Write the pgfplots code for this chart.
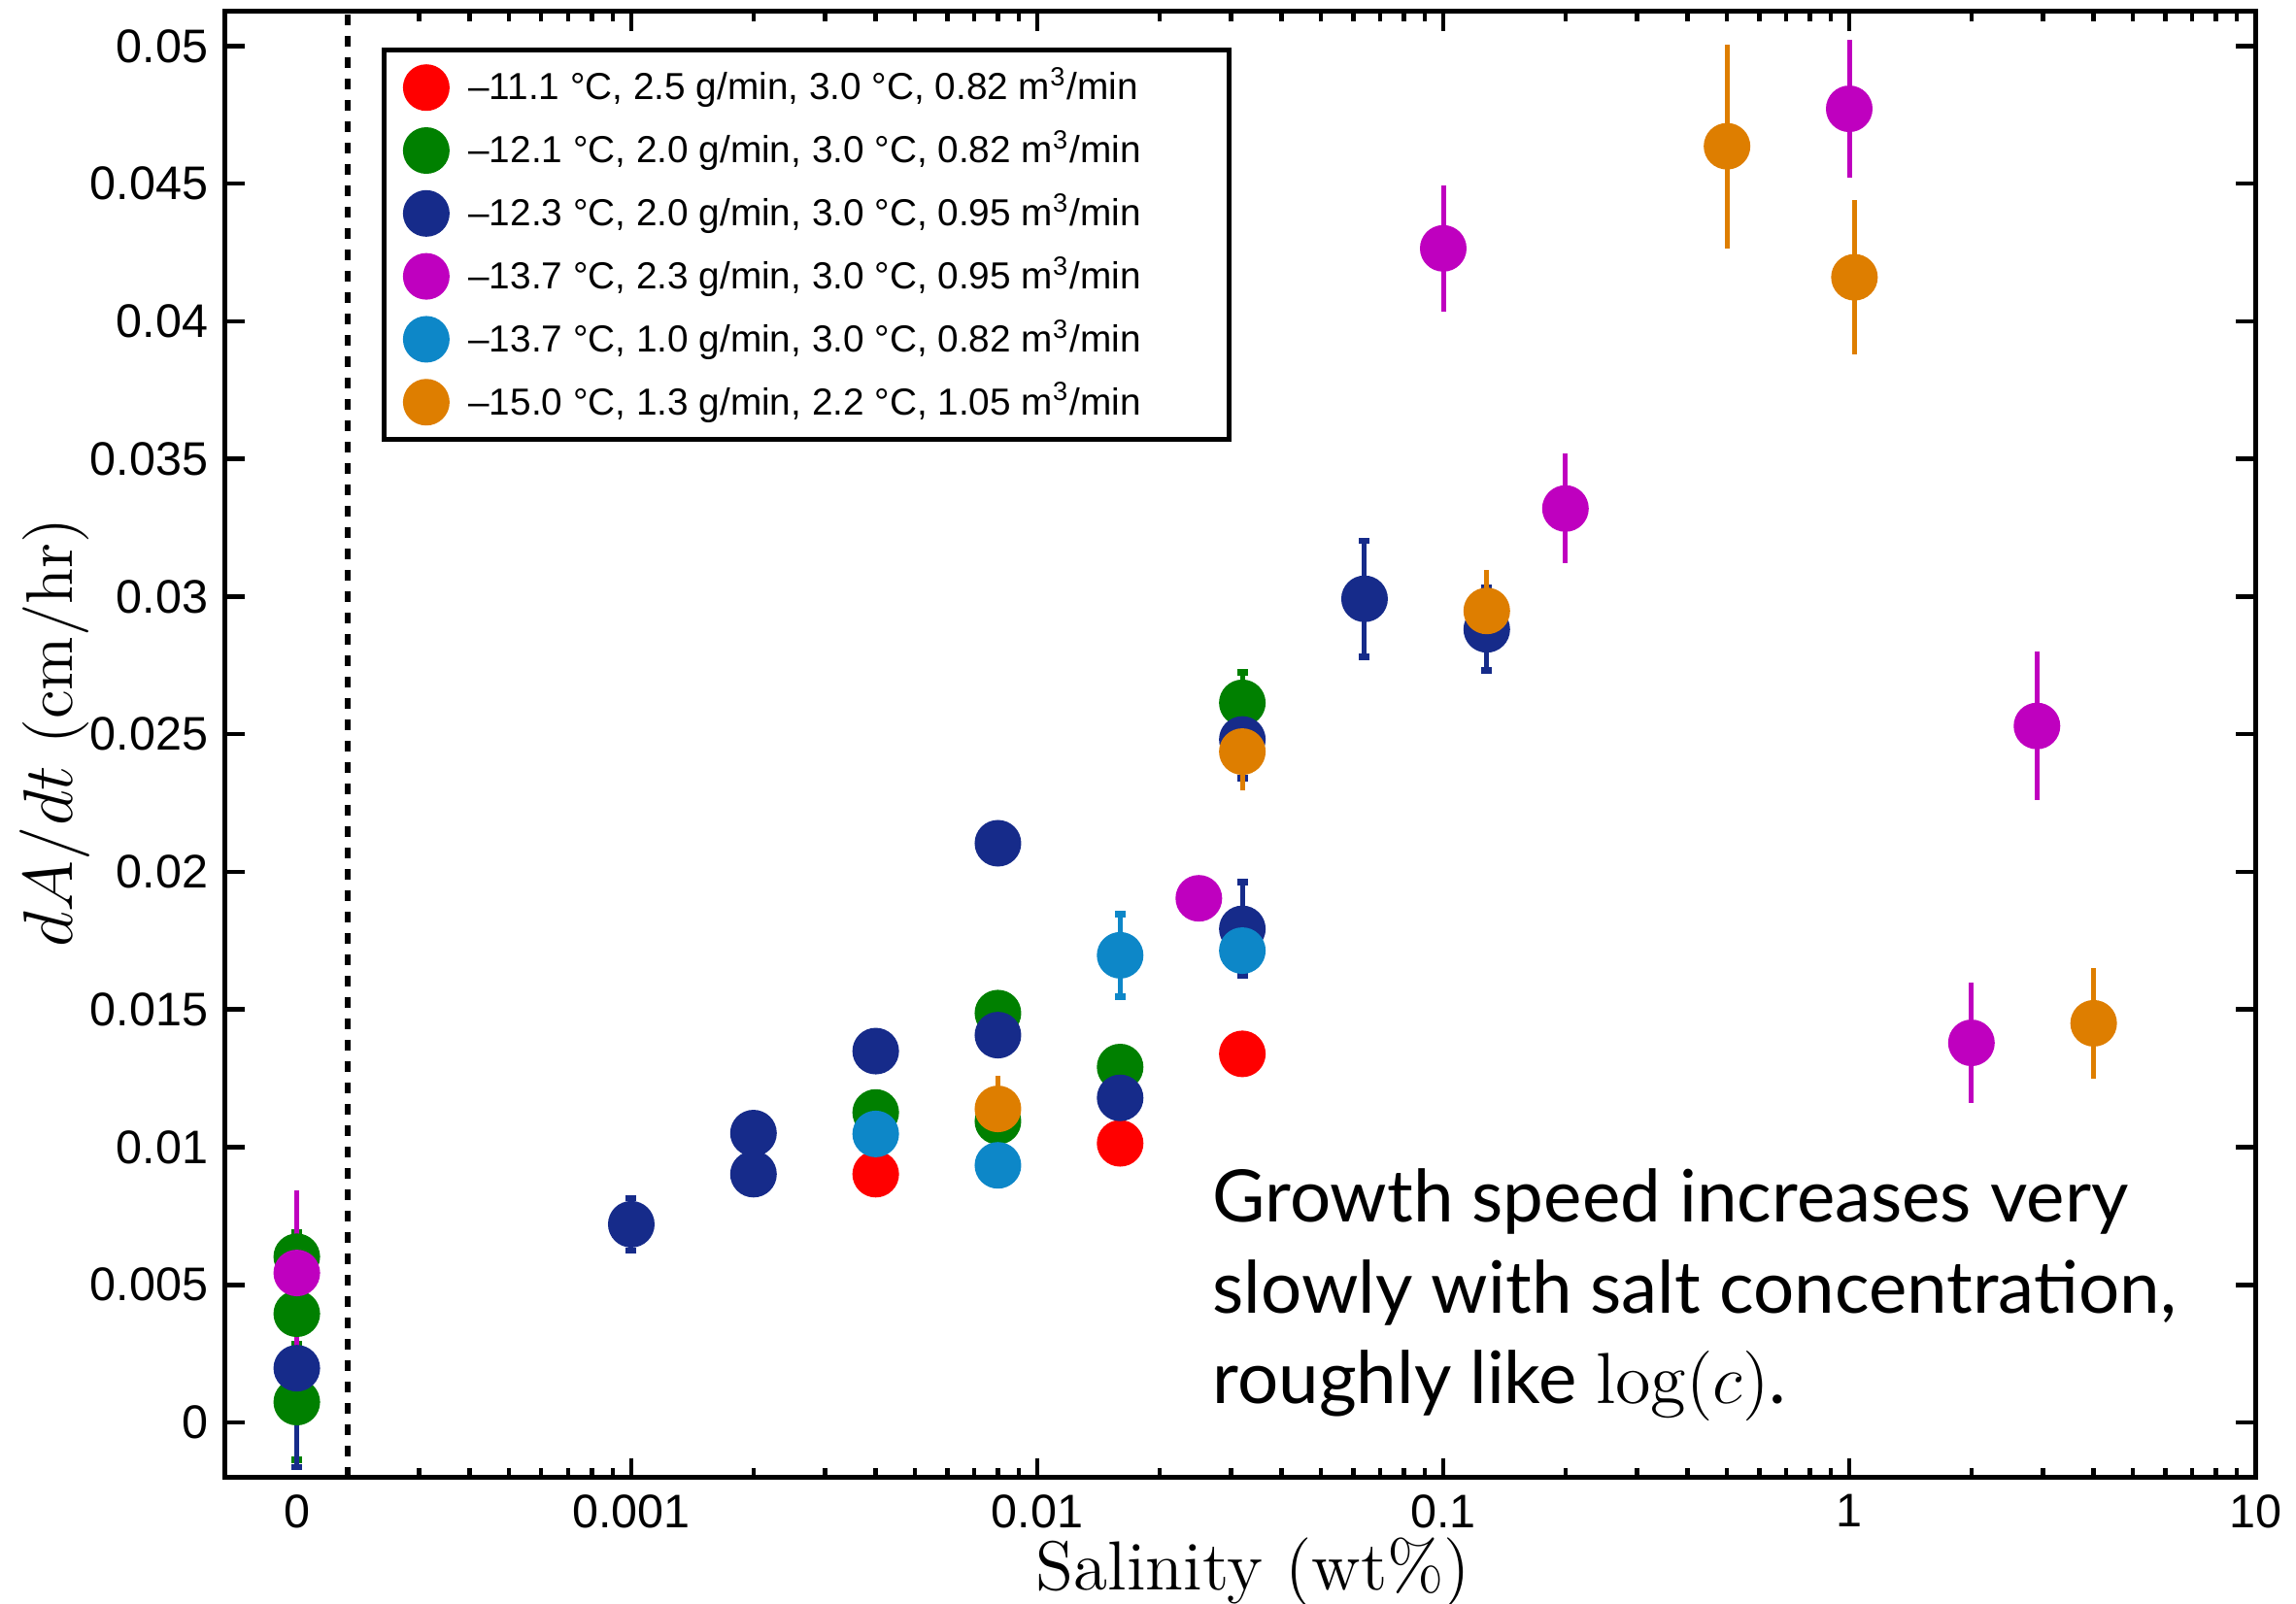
\documentclass[border=0pt]{standalone}
\usepackage{pgfplots}
\pgfplotsset{compat=1.18}
\usepackage{fontspec}
\newfontfamily\helv{Liberation Sans}
\newfontfamily\gill{Lato}
\definecolor{cRed}{RGB}{255,0,0}
\definecolor{cGreen}{RGB}{0,128,0}
\definecolor{cNavy}{RGB}{22,43,138}
\definecolor{cMag}{RGB}{191,0,191}
\definecolor{cSky}{RGB}{13,135,200}
\definecolor{cOrange}{RGB}{222,126,0}
\pgfplotsset{
  dot/.style={only marks, mark=*, mark size=4.6pt, color=#1,
    mark options={solid, line width=0.4pt, fill=#1, draw=#1},
    error bars/.cd, y dir=both, y explicit,
    error bar style={line width=1pt, color=#1},
    error mark options={rotate=90, color=#1, mark size=1.1pt, line width=1.3pt}},
  dotnc/.style={only marks, mark=*, mark size=4.6pt, color=#1,
    mark options={solid, line width=0.4pt, fill=#1, draw=#1},
    error bars/.cd, y dir=both, y explicit,
    error bar style={line width=1pt, color=#1},
    error mark=none},
}
\newcommand{\legtxt}[1]{\hspace*{2.1pt}#1\hspace*{12pt}}
\begin{document}
\begin{tikzpicture}
\begin{axis}[
  at={(0,0)}, anchor=south west,
  scale only axis, width=418pt, height=302pt,
  xmode=log, xmin=1e-4, xmax=10,
  ymin=-0.002, ymax=0.05126,
  axis line style={line width=1pt},
  tick align=inside,
  major tick length=4pt, minor tick length=2pt,
  tick style={black, line width=0.9pt},
  xtick={0.001,0.01,0.1,1,10},
  xticklabels={0.001,0.01,0.1,1,10},
  minor xtick={3e-4,4e-4,5e-4,6e-4,7e-4,8e-4,9e-4,
    2e-3,3e-3,4e-3,5e-3,6e-3,7e-3,8e-3,9e-3,
    2e-2,3e-2,4e-2,5e-2,6e-2,7e-2,8e-2,9e-2,
    0.2,0.3,0.4,0.5,0.6,0.7,0.8,0.9,
    2,3,4,5,6,7,8,9},
  extra x ticks={1.5e-4}, extra x tick labels={0},
  extra x tick style={major tick length=0pt},
  ytick={0,0.005,0.01,0.015,0.02,0.025,0.03,0.035,0.04,0.045,0.05},
  yticklabels={0,0.005,0.01,0.015,0.02,0.025,0.03,0.035,0.04,0.045,0.05},
  scaled y ticks=false,
  ticklabel style={font=\helv\fontsize{9.7}{11}\selectfont},
  ylabel={$dA/dt$ (cm/hr)},
  label style={font=\fontsize{13.6}{15}\selectfont},
  ylabel style={at={(axis description cs:-0.084,0.508)}, anchor=center},
  legend style={at={(rel axis cs:0.077,0.975)}, anchor=north west,
    draw=black, line width=1pt, fill=white,
    font=\helv\fontsize{7.75}{9.3}\selectfont,
    row sep=0.85pt, inner xsep=4.1pt, inner ysep=1.6pt},
  legend cell align=left,
  clip=false,
]
\addplot[forget plot, black, line width=1.1pt, dash pattern=on 2.2pt off 2.2pt]
  coordinates {(2e-4,-0.002) (2e-4,0.05126)};

% -11.1 C
\addplot[dot=cRed] table[x=x, y=y, y error=e] {
x y e
0.004 0.00902 0
0.016 0.01014 0
0.032 0.01339 0
};
\addlegendentry{\legtxt{–11.1 °C, 2.5 g/min, 3.0 °C, 0.82 m\textsuperscript{3}/min}}

% -12.1 C
\addplot[dot=cGreen] table[x=x, y=y, y error=e] {
x y e
1.5e-4 0.00602 0.0009
1.5e-4 0.00395 0.0006
1.5e-4 0.00074 0.0021
0.004 0.01126 0
0.008 0.01487 0
0.008 0.01094 0
0.016 0.01291 0
0.032 0.02614 0.0011
};
\addlegendentry{\legtxt{–12.1 °C, 2.0 g/min, 3.0 °C, 0.82 m\textsuperscript{3}/min}}

% -12.3 C
\addplot[dot=cNavy] table[x=x, y=y, y error=e] {
x y e
1.5e-4 0.00197 0.0036
0.001 0.0072 0.00095
0.002 0.01051 0
0.002 0.00902 0
0.004 0.01349 0
0.008 0.02104 0
0.008 0.01407 0
0.016 0.01179 0
0.032 0.02481 0.0014
0.032 0.01793 0.0017
0.064 0.02992 0.0021
0.128 0.02881 0.0015
};
\addlegendentry{\legtxt{–12.3 °C, 2.0 g/min, 3.0 °C, 0.95 m\textsuperscript{3}/min}}

% -13.7 C, 2.3 g/min
\addplot[dotnc=cMag] table[x=x, y=y, y error=e] {
x y e
1.5e-4 0.00543 0.0030
0.025 0.01904 0
0.1 0.04265 0.0023
0.2 0.0332 0.0020
1.0 0.04772 0.0025
2.0 0.01379 0.0022
2.9 0.0253 0.0027
};
\addlegendentry{\legtxt{–13.7 °C, 2.3 g/min, 3.0 °C, 0.95 m\textsuperscript{3}/min}}

% -13.7 C, 1.0 g/min
\addplot[dot=cSky] table[x=x, y=y, y error=e] {
x y e
0.004 0.01048 0.0010
0.008 0.00934 0
0.016 0.01697 0.0015
0.032 0.01714 0
};
\addlegendentry{\legtxt{–13.7 °C, 1.0 g/min, 3.0 °C, 0.82 m\textsuperscript{3}/min}}

% -15.0 C
\addplot[dotnc=cOrange] table[x=x, y=y, y error=e] {
x y e
0.008 0.01139 0.0012
0.032 0.02437 0.0014
0.128 0.02948 0.0015
0.5 0.04636 0.0037
1.03 0.0416 0.0028
4.0 0.0145 0.0020
};
\addlegendentry{\legtxt{–15.0 °C, 1.3 g/min, 2.2 °C, 1.05 m\textsuperscript{3}/min}}

\node[anchor=north west, align=left, inner sep=0pt,
  font=\gill\fontsize{14.9}{18.7}\selectfont]
  at (rel axis cs:0.486,0.211)
  {Growth speed increases very\\slowly with salt concentration,\\roughly like $\log(c)$.};
\end{axis}
\node[anchor=center, inner sep=0pt, font=\fontsize{14.3}{16}\selectfont]
  at (211.7pt,-19.6pt) {Salinity (wt\%)};
\pgfresetboundingbox
\path[use as bounding box] (-46.4pt,-25.9pt) rectangle (426.4pt,304.34pt);
\end{tikzpicture}
\end{document}
